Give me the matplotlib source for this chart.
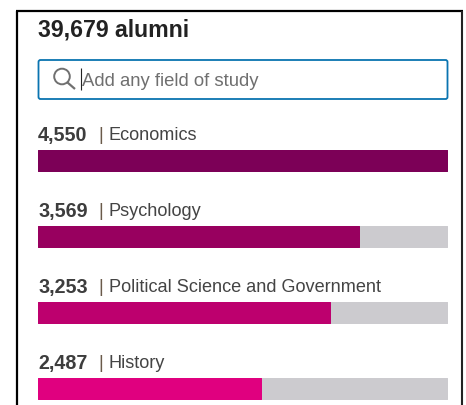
import matplotlib
matplotlib.use("Agg")
import matplotlib.pyplot as plt
from matplotlib.patches import FancyBboxPatch, Circle
from matplotlib.lines import Line2D
from matplotlib.transforms import Affine2D

W, H = 466, 405

fields = ["Economics", "Psychology", "Political Science and Government", "History"]
counts = [4550, 3569, 3253, 2487]
bar_colors = ["#7c0057", "#98005f", "#bd006e", "#e0007f"]
track_color = "#cccbcf"
total_label = "39,679 alumni"
search_label = "Add any field of study"

plt.rcParams["font.family"] = ["Liberation Sans", "DejaVu Sans"]
fig = plt.figure(figsize=(W / 100, H / 100), dpi=100, facecolor="white")

# pixel coordinates, origin top left
px = Affine2D().scale(1 / W, -1 / H).translate(0, 1) + fig.transFigure

def line(xs, ys, color, lw):
    fig.add_artist(Line2D(xs, ys, transform=px, color=color, lw=lw, solid_capstyle="butt"))

line([17, 17], [405, 11], "#000000", 1.6)
line([16, 462.5], [11, 11], "#000000", 1.6)
line([461.7, 461.7], [11, 405], "#222222", 1.5)

fig.text(38, 30, total_label, transform=px, fontsize=16.7, fontweight="bold",
         color="#222222", va="center", ha="left")

fig.add_artist(FancyBboxPatch((38.5, 60), 409, 39, boxstyle="round,pad=0,rounding_size=2",
                              transform=px, fc="white", ec="#0a74b0", lw=1.3))
fig.add_artist(Circle((62, 76.5), 7.8, transform=px, fc="none", ec="#707070", lw=1.4))
line([67.5, 75], [82.5, 89], "#707070", 1.6)
line([81, 81], [68, 90], "#222222", 0.8)
fig.text(82, 82, search_label, transform=px, fontsize=13.3, color="#6f6f6f", va="center", ha="left")

# bars: rows are 76 px apart starting near y=160
ax = fig.add_axes([37.7 / W, 0, 409 / W, 1 - 123 / H])
ax.set_xlim(0, max(counts))
ax.set_ylim((405 - 160.2) / 76, (123 - 160.2) / 76)
ax.axis("off")
rows = range(len(fields))
bh = 21 / 76
tracks = ax.barh(rows, [max(counts)] * len(fields), height=bh, color=track_color,
                 edgecolor=track_color, linewidth=0.72, clip_on=False)
bars = ax.barh(rows, counts, height=bh, color=bar_colors, edgecolor=bar_colors,
               linewidth=0.72, clip_on=False)
for p in list(tracks) + list(bars):
    p.set_joinstyle("round")

for i, (n, f) in enumerate(zip(counts, fields)):
    y = 135 + 76 * i
    fig.text(38, y, f"{n:,}", transform=px, fontsize=14.2, fontweight="bold",
             color="#3d3d3d", va="center", ha="left")
    fig.text(98, y, "|", transform=px, fontsize=13.1, color="#6a5a4a", va="center", ha="left")
    fig.text(109, y, f, transform=px, fontsize=13.1, color="#444444", va="center", ha="left")

fig.savefig("out.png", dpi=100, facecolor="white")
